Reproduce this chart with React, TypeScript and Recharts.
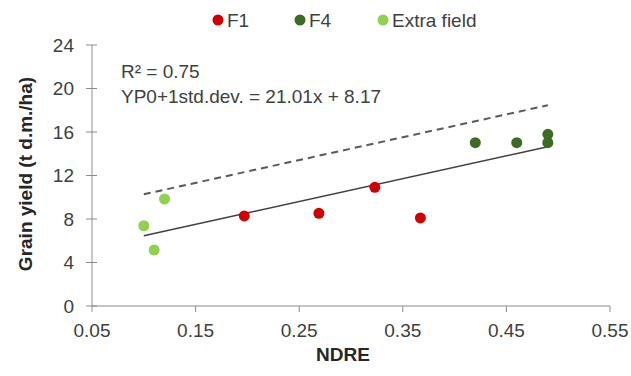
import { ScatterChart, Scatter, XAxis, YAxis } from 'recharts';

const xTicks = [0.05, 0.15, 0.25, 0.35, 0.45, 0.55];
const yTicks = [0, 4, 8, 12, 16, 20, 24];

const f1Points = [
  { x: 0.197, y: 8.28 },
  { x: 0.269, y: 8.52 },
  { x: 0.323, y: 10.91 },
  { x: 0.367, y: 8.1 },
];

const f4Points = [
  { x: 0.42, y: 15.02 },
  { x: 0.46, y: 15.02 },
  { x: 0.49, y: 15.79 },
  { x: 0.49, y: 15.02 },
];

const extraPoints = [
  { x: 0.1, y: 7.38 },
  { x: 0.11, y: 5.15 },
  { x: 0.12, y: 9.84 },
];

// trend line and the YP0 + 1 std.dev. line, as end points
const fitLine = [
  { x: 0.1, y: 6.46 },
  { x: 0.49, y: 14.65 },
];
const upperLine = [
  { x: 0.1, y: 10.27 },
  { x: 0.49, y: 18.46 },
];

const legendItems = [
  { name: 'F1', color: '#d00000', cx: 218 },
  { name: 'F4', color: '#3e6b24', cx: 300 },
  { name: 'Extra field', color: '#92d050', cx: 383 },
];

const FONT = '"Liberation Sans", Arial, sans-serif';
const AXIS = '#8c8c8c';

const dot = (color: string) => (props: any) => (
  <circle cx={props.cx} cy={props.cy} r={5.5} fill={color} />
);

const noDot = () => <g />;

const YTick = (props: any) => {
  const { x, y, payload } = props;
  return (
    <g>
      <line x1={x + 12} x2={x + 23} y1={y} y2={y} stroke={AXIS} />
      <text x={x} y={y} textAnchor="end" dominantBaseline="central" fontSize={19} fill="#404040" fontFamily={FONT}>
        {payload.value}
      </text>
    </g>
  );
};

export default function App() {
  return (
    <div style={{ position: 'absolute', left: 0, top: 0, width: 631, height: 376, background: '#fff' }}>
      <ScatterChart width={631} height={376} margin={{ top: 45, right: 21, bottom: 0, left: 0 }}>
        <XAxis
          type="number"
          dataKey="x"
          domain={[0.05, 0.55]}
          ticks={xTicks}
          tickFormatter={(v: number) => v.toFixed(2)}
          height={70}
          stroke={AXIS}
          tickSize={6}
          tickMargin={12}
          tick={{ fontSize: 19, fill: '#404040', fontFamily: FONT }}
          label={{
            content: () => (
              <text x={343} y={361} textAnchor="middle" fontSize={19} fontWeight="bold" fill="#262626" fontFamily={FONT}>
                NDRE
              </text>
            ),
          }}
        />
        <YAxis
          type="number"
          dataKey="y"
          domain={[0, 24]}
          ticks={yTicks}
          width={92}
          stroke={AXIS}
          tickSize={6}
          tickMargin={12}
          tickLine={false}
          tick={<YTick />}
          label={{
            content: () => (
              <text
                x={25}
                y={174}
                transform="rotate(-90 25 174)"
                textAnchor="middle"
                dominantBaseline="central"
                fontSize={19}
                fontWeight="bold"
                fill="#262626"
                fontFamily={FONT}
              >
                Grain yield (t d.m./ha)
              </text>
            ),
          }}
        />
        <Scatter data={upperLine} line={{ stroke: '#595959', strokeWidth: 2, strokeDasharray: '7 5' }} shape={noDot} isAnimationActive={false} />
        <Scatter data={fitLine} line={{ stroke: '#404040', strokeWidth: 1.6 }} shape={noDot} isAnimationActive={false} />
        <Scatter data={extraPoints} shape={dot('#92d050')} isAnimationActive={false} />
        <Scatter data={f1Points} shape={dot('#d00000')} isAnimationActive={false} />
        <Scatter data={f4Points} shape={dot('#3e6b24')} isAnimationActive={false} />
      </ScatterChart>
      <svg width={631} height={376} style={{ position: 'absolute', left: 0, top: 0, pointerEvents: 'none' }}>
        {legendItems.map((item) => (
          <g key={item.name}>
            <circle cx={item.cx} cy={20} r={5.5} fill={item.color} />
            <text x={item.cx + 9} y={27} fontSize={19} fill="#404040" fontFamily={FONT}>
              {item.name}
            </text>
          </g>
        ))}
        <text x={121} y={78} fontSize={19} fill="#404040" fontFamily={FONT}>
          R² = 0.75
        </text>
        <text x={121} y={103} fontSize={19} fill="#404040" fontFamily={FONT}>
          YP0+1std.dev. = 21.01x + 8.17
        </text>
      </svg>
    </div>
  );
}
